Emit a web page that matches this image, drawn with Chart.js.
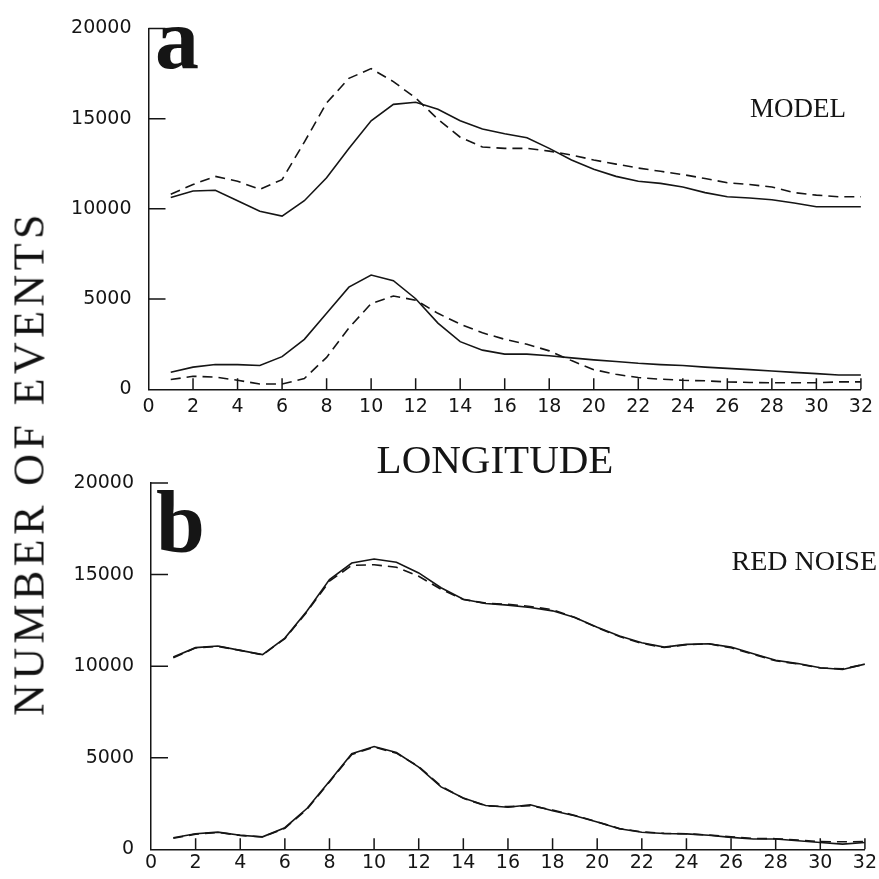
<!DOCTYPE html>
<html>
<head>
<meta charset="utf-8">
<title>Number of events by longitude</title>
<script src="https://cdn.jsdelivr.net/npm/chart.js@4.4.1/dist/chart.umd.min.js"></script>
<style>
  html, body { margin: 0; padding: 0; background: #fff; }
  #wrap { position: relative; width: 879px; height: 879px; overflow: hidden; }
  canvas { position: absolute; left: 0; }
  #topChart { top: 0; }
  #bottomChart { top: 440px; }
  #yTitle {
    position: absolute; left: 29px; top: 463px;
    transform: translate(-50%, -50%) rotate(-90deg);
    font: 44px "Liberation Serif", serif; letter-spacing: 4.4px;
    white-space: nowrap; color: #111;
  }
</style>
</head>
<body>
<div id="wrap">
  <canvas id="topChart" width="879" height="480"></canvas>
  <canvas id="bottomChart" width="879" height="439"></canvas>
  <div id="yTitle">NUMBER OF EVENTS</div>
</div>
<script>
// longitude bins along the x axis
const longitude = [1, 2, 3, 4, 5, 6, 7, 8, 9, 10, 11, 12, 13, 14, 15, 16,
                   17, 18, 19, 20, 21, 22, 23, 24, 25, 26, 27, 28, 29, 30, 31, 32];
const xTicks = [0, 2, 4, 6, 8, 10, 12, 14, 16, 18, 20, 22, 24, 26, 28, 30, 32];
const yTicks = [0, 5000, 10000, 15000, 20000];

// panel a: model
const modelUpperSolid = [10630, 10990, 11030, 10450, 9870, 9600, 10450, 11720, 13350, 14880, 15790, 15910, 15520, 14880, 14430, 14160,
                         13940, 13350, 12710, 12200, 11800, 11530, 11410, 11210, 10900, 10670, 10600, 10500, 10320, 10120, 10120, 10120];
const modelUpperDashed = [10810, 11350, 11800, 11530, 11080, 11620, 13700, 15870, 17230, 17770, 17050, 16140, 14970, 13970, 13430, 13350,
                          13350, 13200, 12980, 12710, 12480, 12260, 12080, 11900, 11680, 11450, 11350, 11210, 10900, 10760, 10670, 10670];
const modelLowerSolid = [950, 1230, 1370, 1370, 1320, 1810, 2770, 4210, 5660, 6330, 6020, 5020, 3670, 2640, 2170, 1950,
                         1950, 1860, 1740, 1630, 1540, 1440, 1370, 1320, 1230, 1160, 1090, 1010, 940, 870, 790, 790];
const modelLowerDashed = [540, 720, 680, 500, 290, 290, 600, 1770, 3400, 4750, 5170, 4940, 4210, 3610, 3130, 2770,
                          2500, 2130, 1590, 1090, 830, 650, 560, 500, 470, 410, 380, 360, 360, 360, 410, 410];

// panel b: red noise
const noiseUpperSolid = [10500, 11010, 11100, 10860, 10630, 11530, 13020, 14730, 15630, 15850, 15670, 15090, 14280, 13650, 13420, 13330,
                         13200, 13020, 12660, 12120, 11640, 11280, 11040, 11190, 11220, 11040, 10680, 10320, 10140, 9910, 9820, 10110];
const noiseUpperDashed = [10460, 11000, 11080, 10860, 10620, 11500, 12980, 14640, 15500, 15540, 15400, 14910, 14200, 13640, 13440, 13380,
                          13260, 13080, 12660, 12100, 11620, 11240, 11020, 11170, 11220, 11000, 10650, 10290, 10120, 9900, 9850, 10100];
const noiseLowerSolid = [630, 850, 940, 770, 680, 1180, 2240, 3710, 5220, 5610, 5280, 4490, 3410, 2800, 2390, 2300,
                         2430, 2110, 1830, 1490, 1120, 930, 860, 840, 770, 650, 560, 560, 470, 370, 280, 370];
const noiseLowerDashed = [600, 830, 920, 760, 670, 1150, 2200, 3680, 5180, 5580, 5250, 4520, 3450, 2780, 2380, 2330,
                          2380, 2150, 1850, 1500, 1130, 950, 870, 850, 780, 680, 590, 580, 500, 420, 410, 420];

const INK = '#151515';
const tickFont = { family: '"DejaVu Sans", sans-serif', size: 19 };

// ticks point inward from the axes, plus panel letter and captions
const panelDecor = {
  id: 'panelDecor',
  afterDraw(chart, args, opts) {
    const { ctx, chartArea, scales } = chart;
    ctx.save();
    ctx.strokeStyle = INK;
    ctx.lineWidth = 1.5;
    ctx.beginPath();
    scales.x.ticks.forEach(t => {
      if (t.value <= scales.x.min) return;
      const px = scales.x.getPixelForValue(t.value);
      ctx.moveTo(px, chartArea.bottom);
      ctx.lineTo(px, chartArea.bottom - opts.xTickLen);
    });
    scales.y.ticks.forEach(t => {
      if (t.value <= scales.y.min) return;
      const py = scales.y.getPixelForValue(t.value);
      ctx.moveTo(chartArea.left, py);
      ctx.lineTo(chartArea.left + opts.yTickLen, py);
    });
    ctx.stroke();

    ctx.fillStyle = INK;
    ctx.textBaseline = 'alphabetic';
    ctx.textAlign = 'left';
    ctx.font = 'bold 88px "Liberation Serif", serif';
    ctx.fillText(opts.letter, opts.letterX, opts.letterY);

    ctx.textAlign = 'right';
    ctx.font = opts.captionSize + 'px "Liberation Serif", serif';
    ctx.fillText(opts.caption, opts.captionX, opts.captionY);

    if (opts.axisTitle) {
      ctx.textAlign = 'center';
      ctx.font = '41px "Liberation Serif", serif';
      ctx.fillText(opts.axisTitle, opts.axisTitleX, opts.axisTitleY);
    }
    ctx.restore();
  }
};

function toPoints(values) {
  return values.map((v, i) => ({ x: longitude[i], y: v }));
}

function line(values, dashed) {
  return {
    data: toPoints(values),
    borderColor: INK,
    borderWidth: 1.6,
    borderDash: dashed ? [10, 6] : [],
    pointRadius: 0,
    tension: 0,
    fill: false
  };
}

function makeChart(id, datasets, cfg) {
  return new Chart(document.getElementById(id), {
    type: 'line',
    data: { datasets },
    plugins: [panelDecor],
    options: {
      responsive: false,
      animation: false,
      devicePixelRatio: 1,
      layout: { padding: cfg.padding },
      plugins: {
        legend: { display: false },
        tooltip: { enabled: false },
        panelDecor: cfg.decor
      },
      scales: {
        x: {
          type: 'linear',
          min: 0,
          max: 32,
          grid: { display: false, drawTicks: false },
          border: { display: true, color: INK, width: 1.5 },
          afterBuildTicks: s => { s.ticks = xTicks.map(v => ({ value: v })); },
          ticks: { color: INK, font: tickFont, padding: cfg.xPad, maxRotation: 0, autoSkip: false,
                   callback: v => String(v) },
          afterFit: s => { s.height = cfg.xHeight; }
        },
        y: {
          min: 0,
          max: 20000,
          grid: { display: false, drawTicks: false },
          border: { display: true, color: INK, width: 1.5 },
          afterBuildTicks: s => { s.ticks = yTicks.map(v => ({ value: v })); },
          ticks: { color: INK, font: tickFont, padding: 17, callback: v => String(v) },
          afterFit: s => { s.width = cfg.yWidth; }
        }
      }
    }
  });
}

makeChart('topChart', [
  line(modelUpperSolid, false),
  line(modelUpperDashed, true),
  line(modelLowerSolid, false),
  line(modelLowerDashed, true)
], {
  padding: { top: 21, right: 14, left: 0, bottom: 0 },
  xHeight: 90.7,
  yWidth: 148.5,
  xPad: 6,
  decor: {
    xTickLen: 11, yTickLen: 17,
    letter: 'a', letterX: 155, letterY: 68,
    caption: 'MODEL', captionSize: 27, captionX: 846, captionY: 117,
    axisTitle: 'LONGITUDE', axisTitleX: 495, axisTitleY: 473
  }
});

makeChart('bottomChart', [
  line(noiseUpperSolid, false),
  line(noiseUpperDashed, true),
  line(noiseLowerSolid, false),
  line(noiseLowerDashed, true)
], {
  padding: { top: 43, right: 13, left: 0, bottom: 0 },
  xHeight: 29.7,
  yWidth: 151,
  xPad: 2,
  decor: {
    xTickLen: 11, yTickLen: 17,
    letter: 'b', letterX: 156, letterY: 112,
    caption: 'RED NOISE', captionSize: 28, captionX: 877, captionY: 130
  }
});
</script>
</body>
</html>
